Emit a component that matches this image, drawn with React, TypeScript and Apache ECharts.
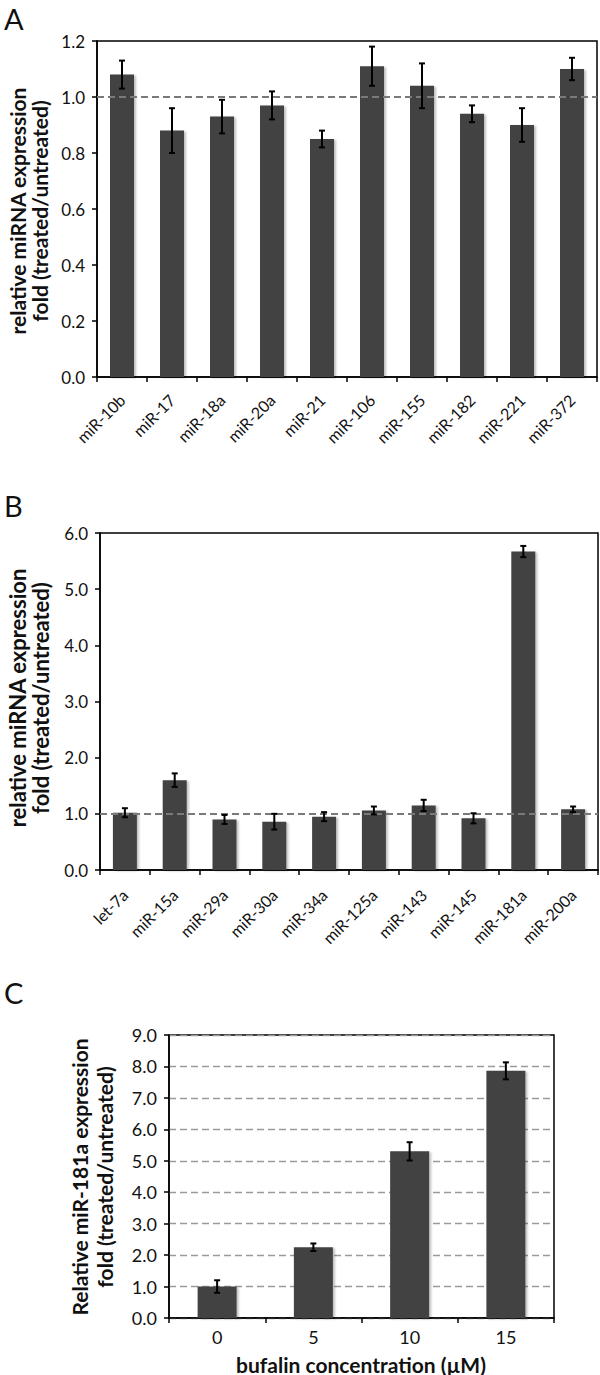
import React, { useEffect, useRef } from "react";
import * as echarts from "echarts";

const catsA = ["miR-10b", "miR-17", "miR-18a", "miR-20a", "miR-21", "miR-106", "miR-155", "miR-182", "miR-221", "miR-372"];
const valsA = [1.08, 0.88, 0.93, 0.97, 0.85, 1.11, 1.04, 0.94, 0.9, 1.1];
const errA = [0.05, 0.08, 0.06, 0.05, 0.03, 0.07, 0.08, 0.03, 0.06, 0.04];

const catsB = ["let-7a", "miR-15a", "miR-29a", "miR-30a", "miR-34a", "miR-125a", "miR-143", "miR-145", "miR-181a", "miR-200a"];
const valsB = [1.02, 1.6, 0.9, 0.86, 0.95, 1.06, 1.15, 0.92, 5.67, 1.08];
const errB = [0.08, 0.12, 0.08, 0.14, 0.08, 0.07, 0.1, 0.09, 0.1, 0.05];

const catsC = ["0", "5", "10", "15"];
const valsC = [1.0, 2.25, 5.3, 7.86];
const errC = [0.2, 0.12, 0.29, 0.27];

const FONT = "Lato, 'DejaVu Sans', sans-serif";
const BAR = "#434343";

function errSeries(idx: number, vals: number[], errs: number[]) {
  return {
    type: "custom",
    xAxisIndex: idx,
    yAxisIndex: idx,
    z: 10,
    silent: true,
    data: vals.map((v, i) => [i, v, errs[i]]),
    renderItem: (params: any, api: any) => {
      const i = api.value(0);
      const v = api.value(1);
      const e = api.value(2);
      const top = api.coord([i, v + e]);
      const bot = api.coord([i, v - e]);
      const w = 3;
      const st = { stroke: "#000", lineWidth: 2 };
      return {
        type: "group",
        children: [
          { type: "line", shape: { x1: top[0], y1: top[1], x2: bot[0], y2: bot[1] }, style: st },
          { type: "line", shape: { x1: top[0] - w, y1: top[1], x2: top[0] + w, y2: top[1] }, style: st },
          { type: "line", shape: { x1: bot[0] - w, y1: bot[1], x2: bot[0] + w, y2: bot[1] }, style: st },
        ],
      };
    },
  };
}

function barSeries(idx: number, vals: number[], width: number, refLine: boolean) {
  const s: any = {
    type: "bar",
    xAxisIndex: idx,
    yAxisIndex: idx,
    data: vals,
    barWidth: width,
    itemStyle: {
      color: BAR,
      shadowColor: "rgba(0,0,0,0.25)",
      shadowBlur: 2,
      shadowOffsetX: 2,
      shadowOffsetY: 1,
    },
  };
  if (refLine) {
    s.markLine = {
      silent: true,
      symbol: "none",
      label: { show: false },
      lineStyle: { color: "#7a7a7a", type: [7, 4], width: 2 },
      data: [{ yAxis: 1 }],
    };
  }
  return s;
}

function xCat(idx: number, data: string[], rotate: number, fontSize: number, margin: number) {
  return {
    type: "category",
    gridIndex: idx,
    data,
    axisLine: { show: true, lineStyle: { color: "#000", width: 1.5 } },
    axisTick: { show: true, length: 5, lineStyle: { color: "#000", width: 1.5 } },
    axisLabel: { rotate, fontSize, margin, color: "#111", fontFamily: FONT, interval: 0 },
    splitLine: { show: false },
  };
}

function yVal(idx: number, max: number, interval: number, fontSize: number, margin: number, split: boolean) {
  return {
    type: "value",
    gridIndex: idx,
    min: 0,
    max,
    interval,
    axisLine: { show: true, lineStyle: { color: "#000", width: 1.5 } },
    axisTick: { show: true, length: 5, lineStyle: { color: "#000", width: 1.5 } },
    axisLabel: {
      fontSize,
      margin,
      color: "#111",
      fontFamily: FONT,
      formatter: (v: number) => v.toFixed(1),
    },
    splitLine: split
      ? { show: true, lineStyle: { color: "#9a9a9a", type: [7, 4], width: 1.3 } }
      : { show: false },
  };
}

function vText(x: number, y: number, text: string, size: number) {
  return {
    type: "text",
    x,
    y,
    rotation: Math.PI / 2,
    style: {
      text,
      align: "center",
      verticalAlign: "middle",
      font: `bold ${size}px ${FONT}`,
      fill: "#111",
    },
  };
}

function letter(x: number, y: number, text: string) {
  return {
    type: "text",
    x,
    y,
    style: {
      text,
      align: "left",
      verticalAlign: "middle",
      font: `29px ${FONT}`,
      fill: "#111",
    },
  };
}

export default function App() {
  const ref = useRef<HTMLDivElement>(null);
  useEffect(() => {
    if (!ref.current) return;
    const chart = echarts.init(ref.current, undefined, { renderer: "svg" });
    const border = { show: true, borderColor: "#000", borderWidth: 1.5, backgroundColor: "transparent" };
    chart.setOption({
      animation: false,
      grid: [
        { left: 97, top: 41, width: 500, height: 336, ...border },
        { left: 100, top: 533, width: 498, height: 337, ...border },
        { left: 169, top: 1035, width: 385, height: 283, ...border },
      ],
      xAxis: [
        xCat(0, catsA, 45, 16, 20),
        xCat(1, catsB, 45, 16, 22),
        xCat(2, catsC, 0, 18, 10),
      ],
      yAxis: [
        yVal(0, 1.2, 0.2, 17, 12, false),
        yVal(1, 6, 1, 17, 12, false),
        yVal(2, 9, 1, 18, 12, true),
      ],
      series: [
        barSeries(0, valsA, 24, true),
        errSeries(0, valsA, errA),
        barSeries(1, valsB, 24, true),
        errSeries(1, valsB, errB),
        barSeries(2, valsC, 39, false),
        errSeries(2, valsC, errC),
      ],
      graphic: [
        letter(4, 18, "A"),
        letter(4, 505, "B"),
        letter(4, 992, "C"),
        vText(17, 211, "relative miRNA expression", 21),
        vText(39, 211, "fold (treated/untreated)", 21),
        vText(17, 698, "relative miRNA expression", 22),
        vText(40, 698, "fold (treated/untreated)", 22),
        vText(79, 1177, "Relative miR-181a expression", 21),
        vText(104, 1177, "fold (treated/untreated)", 21),
        {
          type: "text",
          x: 361,
          y: 1364,
          style: {
            text: "bufalin concentration (µM)",
            align: "center",
            verticalAlign: "middle",
            font: `bold 21px ${FONT}`,
            fill: "#111",
          },
        },
      ],
    });
    return () => chart.dispose();
  }, []);
  return (
    <div
      ref={ref}
      style={{ position: "absolute", left: 0, top: 0, width: 600, height: 1375, background: "#fff" }}
    />
  );
}
